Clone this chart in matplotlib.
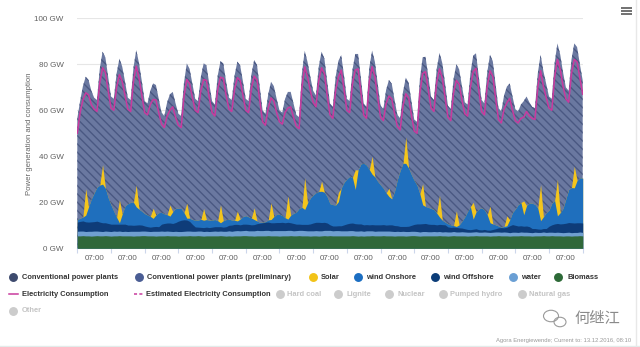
import numpy as np
import matplotlib.pyplot as plt
from matplotlib.patches import Ellipse

# ---------------------------------------------------------------------------
# Data: 30 days, one value every 4 h (hours since the start of the window)
# values in GW
# ---------------------------------------------------------------------------
hours = np.arange(0, 721, 4)

total_generation = [
    56.5, 64, 70.5, 74.6, 73.2, 68.5,
    65.5, 64.5, 78, 85.5, 83, 74.5,
    66, 65, 76, 82.5, 79, 72.5,
    65.5, 64.5, 78.5, 86.2, 80.4, 72.5,
    64, 63, 68.5, 71.7, 71, 65,
    59, 57.5, 63.5, 67, 68, 63,
    58.5, 57.5, 72, 80.4, 78, 71.5,
    65, 64, 74.5, 80.4, 79.5, 71.5,
    64, 62.5, 75, 81.4, 80.4, 72.5,
    65.5, 64.5, 75, 81.2, 79.5, 72.5,
    65, 64, 75.5, 81.9, 79.7, 70,
    60, 58.5, 67, 72.4, 70.5, 65,
    60, 59, 65, 68, 68, 63,
    58, 57, 76, 85.9, 81, 74.5,
    68.5, 66.5, 79, 85.5, 82.5, 72.5,
    63, 61.5, 74.5, 81.5, 84, 75,
    65, 64, 77.5, 84.5, 84.5, 74,
    63, 61.5, 78.5, 86, 81, 71.5,
    62, 60.5, 69, 73.2, 71.5, 64.5,
    58, 56.5, 68, 74.2, 72, 64,
    56, 55, 73.5, 83, 83.3, 75,
    66, 64.5, 78, 85, 80.5, 71.5,
    62, 60.5, 73.5, 80, 77.8, 70.5,
    63.5, 62.5, 76, 83.8, 84.8, 74.5,
    64.5, 63, 76.5, 84.2, 81.2, 71,
    61, 59.5, 66.5, 70.3, 71.7, 66,
    60.5, 59.5, 62.5, 64, 66, 63.5,
    61.5, 61, 76, 84.2, 77, 71.5,
    66, 65, 80.5, 89.1, 84.2, 76.5,
    70, 68.5, 82, 89.1, 87.5, 80,
    73,
]

consumption = [
    50, 59, 64.5, 67.6, 66.7, 62.5,
    60.5, 59.5, 72, 78.5, 76.5, 68.5,
    61, 60, 70, 75.5, 72.5, 66.5,
    60.5, 59.5, 72.5, 79.2, 73.9, 66.5,
    59, 58, 62.5, 64.7, 64.5, 59,
    54, 52.5, 57.5, 60, 61.5, 57,
    53.5, 52.5, 66, 73.4, 71.5, 65.5,
    60, 59, 68.5, 73.4, 73, 65.5,
    59, 57.5, 69, 74.4, 73.9, 66.5,
    60.5, 59.5, 69, 74.2, 73, 66.5,
    60, 59, 69.5, 74.9, 73.2, 64,
    55, 53.5, 61, 65.4, 64, 59,
    55, 54, 59, 61, 61.5, 57,
    53, 52, 70, 78.9, 74.5, 68.5,
    63.5, 61.5, 73, 78.5, 76, 66.5,
    58, 56.5, 68.5, 74.5, 77.5, 69,
    60, 59, 71.5, 77.5, 78, 68,
    58, 56.5, 72.5, 79, 74.5, 65.5,
    57, 55.5, 63, 66.2, 65, 58.5,
    53, 51.5, 62, 67.2, 65.5, 58,
    51, 50, 67.5, 76, 76.8, 69,
    61, 59.5, 72, 78, 74, 65.5,
    57, 55.5, 67.5, 73, 71.3, 64.5,
    58.5, 57.5, 70, 76.8, 78.3, 68.5,
    59.5, 58, 70.5, 77.2, 74.7, 65,
    56, 54.5, 60.5, 63.3, 65.2, 60,
    55.5, 54.5, 56.5, 57, 59.5, 57.5,
    56.5, 56, 70, 77.2, 70.5, 65.5,
    61, 60, 74.5, 82.1, 77.7, 70.5,
    65, 63.5, 76, 82.1, 81, 74,
    67,
]

biomass = [
    5.4, 5.4, 5.5, 5.4, 5.4, 5.3,
    5.4, 5.5, 5.4, 5.4, 5.5, 5.4,
    5.3, 5.4, 5.4, 5.5, 5.4, 5.4,
    5.4, 5.4, 5.3, 5.4, 5.4, 5.5,
    5.5, 5.4, 5.4, 5.4, 5.3, 5.4,
    5.4, 5.4, 5.5, 5.4, 5.4, 5.4,
    5.3, 5.4, 5.4, 5.4, 5.5, 5.4,
    5.4, 5.5, 5.4, 5.3, 5.4, 5.4,
    5.4, 5.4, 5.4, 5.5, 5.4, 5.3,
    5.4, 5.3, 5.4, 5.4, 5.4, 5.5,
    5.5, 5.4, 5.4, 5.3, 5.4, 5.4,
    5.4, 5.4, 5.5, 5.4, 5.4, 5.4,
    5.3, 5.4, 5.4, 5.4, 5.5, 5.4,
    5.4, 5.5, 5.4, 5.4, 5.4, 5.3,
    5.4, 5.4, 5.3, 5.4, 5.5, 5.4,
    5.5, 5.4, 5.4, 5.4, 5.4, 5.4,
    5.4, 5.4, 5.5, 5.4, 5.3, 5.4,
    5.3, 5.4, 5.4, 5.5, 5.4, 5.4,
    5.4, 5.5, 5.4, 5.4, 5.4, 5.3,
    5.4, 5.4, 5.4, 5.3, 5.4, 5.5,
    5.5, 5.4, 5.3, 5.4, 5.4, 5.4,
    5.4, 5.4, 5.4, 5.5, 5.4, 5.4,
    5.3, 5.4, 5.5, 5.4, 5.4, 5.4,
    5.4, 5.3, 5.4, 5.4, 5.5, 5.4,
    5.4, 5.4, 5.4, 5.3, 5.4, 5.4,
    5.5, 5.4, 5.4, 5.4, 5.3, 5.4,
    5.4, 5.4, 5.5, 5.4, 5.4, 5.4,
    5.3, 5.4, 5.4, 5.4, 5.5, 5.4,
    5.4, 5.5, 5.4, 5.4, 5.4, 5.3,
    5.4, 5.4, 5.3, 5.4, 5.4, 5.5,
    5.4,
]

water = [
    2.0, 2.1, 2.0, 1.9, 2.0, 2.1,
    2.1, 2.0, 2.0, 1.9, 2.0, 2.0,
    2.0, 2.1, 2.0, 2.0, 1.9, 2.0,
    1.9, 2.0, 2.1, 2.0, 2.0, 2.0,
    2.0, 2.0, 1.9, 2.0, 2.1, 2.0,
    2.1, 2.0, 2.0, 2.0, 1.9, 2.0,
    2.0, 1.9, 2.0, 2.1, 2.0, 2.0,
    2.0, 2.0, 2.1, 2.0, 2.0, 1.9,
    2.0, 2.1, 2.0, 2.0, 2.0, 2.1,
    2.2, 2.1, 2.2, 2.3, 2.2, 2.2,
    2.3, 2.2, 2.2, 2.3, 2.4, 2.3,
    2.3, 2.4, 2.3, 2.2, 2.3, 2.3,
    2.4, 2.3, 2.3, 2.4, 2.3, 2.2,
    2.3, 2.3, 2.4, 2.3, 2.2, 2.3,
    2.2, 2.3, 2.3, 2.2, 2.3, 2.4,
    2.3, 2.2, 2.3, 2.3, 2.2, 2.2,
    2.2, 2.3, 2.2, 2.1, 2.2, 2.2,
    2.1, 2.2, 2.2, 2.1, 2.0, 2.1,
    2.1, 2.0, 2.1, 2.1, 2.0, 2.0,
    2.0, 1.9, 2.0, 2.0, 1.9, 1.9,
    1.9, 1.9, 1.8, 1.9, 1.9, 1.8,
    1.8, 1.9, 1.8, 1.8, 1.7, 1.8,
    1.8, 1.7, 1.8, 1.7, 1.7, 1.8,
    1.7, 1.7, 1.6, 1.7, 1.7, 1.6,
    1.6, 1.7, 1.6, 1.6, 1.6, 1.7,
    1.6, 1.6, 1.7, 1.6, 1.5, 1.6,
    1.6, 1.5, 1.6, 1.6, 1.6, 1.5,
    1.5, 1.6, 1.5, 1.5, 1.6, 1.5,
    1.6, 1.5, 1.5, 1.6, 1.5, 1.5,
    1.5, 1.6, 1.5, 1.5, 1.5, 1.6,
    1.5,
]

wind_offshore = [
    4.0, 4.2, 4.4, 4.2, 4.0, 4.1,
    4.1, 4.3, 4.0, 3.8, 3.6, 3.4,
    3.2, 3.0, 3.1, 3.0, 3.2, 3.1,
    2.8, 2.7, 2.6, 2.7, 2.8, 2.6,
    2.2, 2.0, 1.9, 2.0, 2.1, 2.0,
    3.0, 3.4, 3.5, 3.6, 3.5, 3.8,
    4.5, 4.9, 5.0, 4.8, 4.2, 3.0,
    1.9, 1.7, 1.6, 1.7, 1.8, 1.7,
    1.8, 1.9, 2.0, 1.9, 1.8, 2.0,
    2.4, 2.7, 2.8, 2.7, 2.6, 2.8,
    2.7, 2.8, 2.6, 2.7, 2.9, 3.2,
    3.4, 3.5, 3.6, 3.5, 3.4, 3.5,
    3.5, 3.6, 3.4, 3.5, 3.3, 3.2,
    2.8, 2.7, 2.6, 2.7, 2.8, 3.0,
    3.4, 3.6, 3.7, 3.6, 3.5, 3.2,
    2.4, 2.1, 2.0, 2.1, 2.2, 2.6,
    3.0, 3.2, 3.3, 3.2, 3.1, 3.0,
    2.8, 2.7, 2.6, 2.7, 2.8, 2.7,
    2.7, 2.8, 2.6, 2.7, 2.8, 2.6,
    2.4, 2.2, 2.1, 2.2, 2.3, 2.6,
    3.0, 3.3, 3.5, 3.4, 3.5, 3.3,
    3.2, 3.1, 3.0, 3.1, 3.2, 3.0,
    2.2, 2.0, 1.9, 2.0, 1.8, 1.6,
    1.4, 1.2, 1.1, 1.2, 1.3, 1.1,
    1.0, 1.1, 0.9, 1.0, 1.2, 1.4,
    1.8, 2.0, 1.8, 2.2, 3.0, 3.3,
    3.0, 2.8, 2.7, 2.6, 2.7, 2.5,
    1.8, 1.6, 1.5, 1.4, 1.5, 1.7,
    2.6, 3.2, 3.7, 3.8, 3.7, 3.9,
    4.0, 4.2, 4.3, 4.1, 4.2, 4.0,
    4.1,
]

wind_onshore = [
    1.1, 1.4, 1.7, 2.9, 6.6, 10.0,
    12.5, 14.8, 16.1, 16.8, 15.0, 11.2,
    8.4, 5.6, 3.0, 0.6, 4.4, 8.0,
    9.3, 9.9, 10.0, 7.9, 6.8, 6.0,
    5.4, 5.1, 4.7, 3.6, 5.0, 6.1,
    5.1, 4.2, 3.6, 3.0, 5.1, 6.2,
    5.6, 5.1, 3.1, 0.8, 1.4, 2.1,
    3.0, 3.1, 3.5, 3.2, 3.3, 3.2,
    3.1, 3.1, 2.6, 1.7, 2.8, 3.1,
    2.7, 2.2, 1.8, 1.5, 2.5, 3.3,
    3.7, 3.3, 3.0, 2.2, 1.2, 0.4,
    0.2, 0.3, 1.0, 1.4, 2.7, 3.6,
    3.6, 3.0, 2.2, 1.4, 3.3, 4.4,
    5.3, 6.9, 7.4, 6.5, 9.3, 11.3,
    12.2, 12.9, 13.4, 13.6, 13.1, 11.4,
    9.2, 9.3, 9.1, 10.5, 16.4, 18.5,
    19.6, 20.4, 19.8, 14.9, 23.5, 26.1,
    26.8, 25.9, 24.0, 21.9, 20.8, 18.9,
    17.4, 15.8, 14.0, 12.3, 11.3, 15.0,
    20.2, 24.4, 27.5, 27.4, 25.3, 22.0,
    19.1, 16.8, 13.1, 8.2, 7.4, 7.3,
    6.9, 6.5, 5.1, 3.2, 1.9, 1.2,
    1.4, 1.1, 0.7, 0.4, 1.3, 3.0,
    5.2, 7.9, 10.0, 4.4, 7.3, 9.0,
    9.6, 8.5, 6.7, 3.2, 2.4, 1.7,
    0.8, 0.2, 0.6, 0.6, 2.6, 5.3,
    7.1, 9.3, 10.1, 5.0, 8.9, 10.3,
    11.0, 10.5, 9.1, 3.7, 5.1, 6.9,
    7.0, 9.4, 10.2, 3.3, 4.9, 6.7,
    10.6, 14.4, 15.3, 15.3, 18.4, 19.6,
    19.5,
]

solar = [
    0, 0, 0, 11.5, 0, 0,
    0, 0, 0, 8.5, 0, 0,
    0, 0, 0, 10.0, 0, 0,
    0, 0, 0, 9.5, 0, 0,
    0, 0, 0, 4.4, 0, 0,
    0, 0, 0, 4.8, 0, 0,
    0, 0, 0, 6.5, 0, 0,
    0, 0, 0, 5.1, 0, 0,
    0, 0, 0, 7.8, 0, 0,
    0, 0, 0, 4.3, 0, 0,
    0, 0, 0, 5.1, 0, 0,
    0, 0, 0, 7.3, 0, 0,
    0, 0, 0, 10.1, 0, 0,
    0, 0, 0, 13.8, 0, 0,
    0, 0, 0, 4.4, 0, 0,
    0, 0, 0, 4.0, 0, 0,
    0, 0, 0, 8.5, 0, 0,
    0, 0, 0, 7.8, 0, 0,
    0, 0, 0, 3.6, 0, 0,
    0, 0, 0, 11.5, 0, 0,
    0, 0, 0, 9.2, 0, 0,
    0, 0, 0, 9.5, 0, 0,
    0, 0, 0, 6.8, 0, 0,
    0, 0, 0, 7.3, 0, 0,
    0, 0, 0, 7.2, 0, 0,
    0, 0, 0, 4.3, 0, 0,
    0, 0, 0, 6.0, 0, 0,
    0, 0, 0, 15.7, 0, 0,
    0, 0, 0, 15.9, 0, 0,
    0, 0, 0, 9.4, 0, 0,
    0,
]

y_ticks = [0, 20, 40, 60, 80, 100]
x_label = "07:00"

# colours
C_CONV = "#6a78a0"
C_CONV_HATCH = "#4a5882"
C_SOLAR = "#f4c51c"
C_ON = "#1f6fbd"
C_OFF = "#0e3c79"
C_WATER = "#6f9fd0"
C_BIO = "#30683a"
C_CONS = "#c93a9e"

plt.rcParams["font.family"] = ["Liberation Sans", "DejaVu Sans"]
plt.rcParams["hatch.linewidth"] = 1.0

W, H = 640, 347
fig = plt.figure(figsize=(W / 100, H / 100), dpi=100)
ax = fig.add_axes([77.3 / W, 1 - 248.3 / H, 505.4 / W, 230 / H])

# stacked layers, drawn back to front from zero so no seams appear
bio_top = np.array(biomass)
water_top = bio_top + np.array(water)
off_top = water_top + np.array(wind_offshore)
on_top = off_top + np.array(wind_onshore)
solar_top = on_top + np.array(solar)

ax.fill_between(hours, 0, total_generation, facecolor=C_CONV,
                edgecolor=C_CONV_HATCH, hatch="\\\\\\\\", lw=0, zorder=1)
ax.fill_between(hours, 0, solar_top, color=C_SOLAR, lw=0, zorder=2)
ax.fill_between(hours, 0, on_top, color=C_ON, lw=0, zorder=3)
ax.fill_between(hours, 0, off_top, color=C_OFF, lw=0, zorder=4)
ax.fill_between(hours, 0, water_top, color=C_WATER, lw=0, zorder=5)
ax.fill_between(hours, 0, bio_top, color=C_BIO, lw=0, zorder=6)
ax.plot(hours, consumption, color=C_CONS, lw=1.1, zorder=7)

ax.set_xlim(0, 720)
ax.set_ylim(0, 100)
ax.set_yticks(y_ticks)
ax.set_yticklabels([f"{v} GW" for v in y_ticks])
ax.set_xticks(np.arange(0, 721, 48))
ax.set_xticklabels([])
ax.set_xticks(np.arange(24, 720, 48), minor=True)
ax.set_xticklabels([x_label] * 15, minor=True)
ax.tick_params(axis="y", length=0, pad=10, labelsize=5.8, labelcolor="#606060")
ax.tick_params(axis="x", which="major", length=3.5, width=0.8, color="#ccd6eb")
ax.tick_params(axis="x", which="minor", length=0, pad=4.5, labelsize=5.8,
               labelcolor="#606060")
ax.set_axisbelow(True)
ax.yaxis.grid(True, color="#e6e6e6", lw=0.8)
for side in ["top", "right", "left"]:
    ax.spines[side].set_visible(False)
ax.spines["bottom"].set_color("#ccd6eb")
ax.spines["bottom"].set_linewidth(0.8)

# overlay in pixel coordinates for legend and decorations
deco = fig.add_axes([0, 0, 1, 1], zorder=10)
deco.set_xlim(0, W)
deco.set_ylim(H, 0)
deco.axis("off")
deco.patch.set_alpha(0)

deco.text(29.5, 133.3, "Power generation and consumption", rotation=90,
          ha="center", va="center", fontsize=5.6, color="#666666")

LEG_FONT = ["Liberation Sans Narrow", "Liberation Sans", "DejaVu Sans"]
LEG_SIZE = 5.4
leg_dark = "#333333"
leg_grey = "#c4c4c4"

row1 = [
    ("Conventional power plants", "#3d4a6e", 13.3, 21.7),
    ("Conventional power plants (preliminary)", "#4a5d94", 139.3, 146.7),
    ("Solar", "#f2c318", 313.3, 321.0),
    ("wind Onshore", "#1b6ec2", 357.7, 365.7),
    ("wind Offshore", "#0b3c78", 435.0, 443.3),
    ("water", "#6a9fd4", 512.7, 521.0),
    ("Biomass", "#2d6a37", 558.3, 567.5),
]
for label, col, mx, tx in row1:
    deco.plot(mx, 277.3, "o", ms=5.4, color=col)
    deco.text(tx, 277.3, label, fontsize=LEG_SIZE, fontweight="bold",
              color=leg_dark, ha="left", va="center", family=LEG_FONT)

deco.plot([9, 18], [294.3, 294.3], color=C_CONS, lw=1.1)
deco.text(21.7, 294.3, "Electricity Consumption", fontsize=LEG_SIZE,
          fontweight="bold", color=leg_dark, ha="left", va="center",
          family=LEG_FONT)
deco.plot([134, 144], [294.3, 294.3], color=C_CONS, lw=1.1, ls=(0, (2, 1.5)))
deco.text(146.0, 294.3, "Estimated Electricity Consumption", fontsize=LEG_SIZE,
          fontweight="bold", color=leg_dark, ha="left", va="center",
          family=LEG_FONT)

hidden = [
    ("Hard coal", 280.0, 287.0, 294.3),
    ("Lignite", 338.3, 346.5, 294.3),
    ("Nuclear", 389.3, 397.0, 294.3),
    ("Pumped hydro", 442.7, 450.0, 294.3),
    ("Natural gas", 521.7, 529.3, 294.3),
    ("Other", 13.3, 21.7, 310.7),
]
for label, mx, tx, ty in hidden:
    deco.plot(mx, ty, "o", ms=5.4, color="#cccccc")
    deco.text(tx, ty, label, fontsize=LEG_SIZE, fontweight="bold",
              color=leg_grey, ha="left", va="center", family=LEG_FONT)

# menu icon
for yy in (7.5, 10.5, 13.5):
    deco.plot([620.5, 631.5], [yy, yy], color="#666666", lw=1.3,
              solid_capstyle="butt")

# container border
deco.plot([636, 636], [0, 345], color="#e8e8e8", lw=1)
deco.plot([0, 640], [345.5, 345.5], color="#e3ebea", lw=1)

# watermark and source
deco.add_patch(Ellipse((551, 316), 15, 11.5, fill=False, ec="#9a9a9a", lw=0.8))
deco.add_patch(Ellipse((560, 322), 12, 9.5, fill=False, ec="#9a9a9a", lw=0.8))
deco.text(597, 318.5, "何继江", fontsize=11, color="#8a8a8a", ha="center",
          va="center", family=["Noto Sans CJK SC", "DejaVu Sans"])
deco.text(631, 340.5, "Agora Energiewende; Current to: 13.12.2016, 08:10",
          ha="right", va="center", fontsize=4.2, color="#9a9a9a")

fig.savefig("out.png", dpi=100)
